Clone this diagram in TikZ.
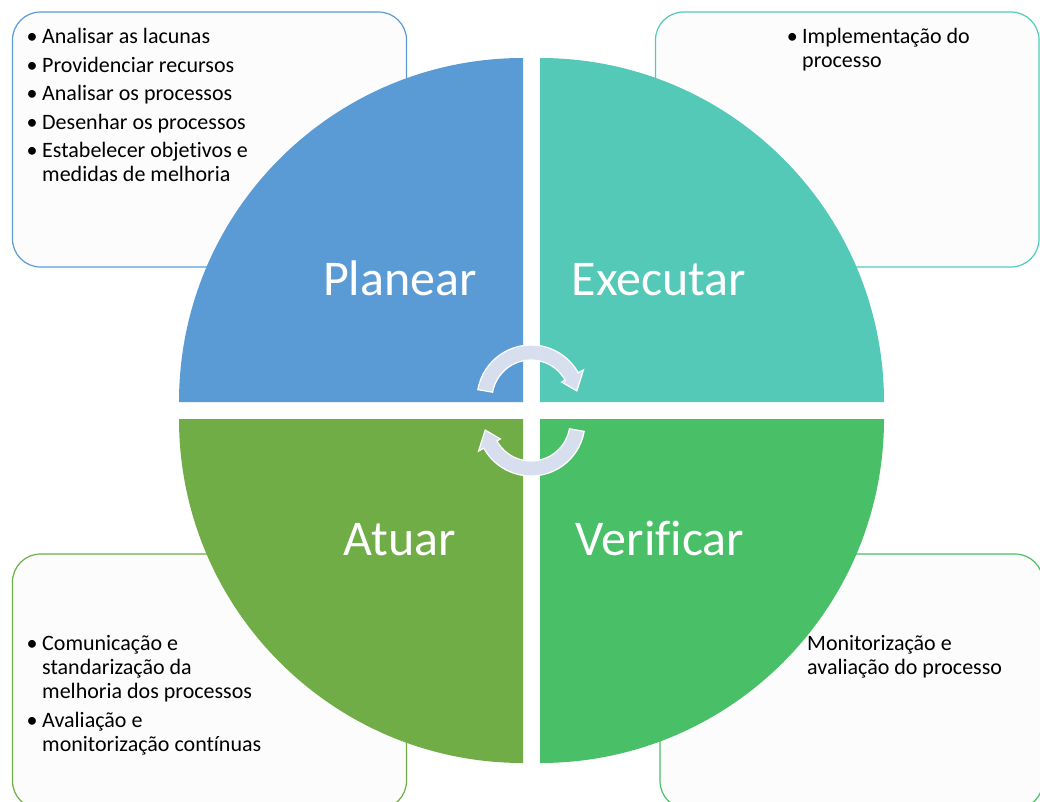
\documentclass[tikz,border=0pt]{standalone}
\usepackage{fontspec}
\setmainfont{Carlito}[RawFeature={-liga;-clig;-calt;-dlig}]
\usetikzlibrary{calc}
\definecolor{qblue}{HTML}{5B9BD5}
\definecolor{qteal}{HTML}{54C9B8}
\definecolor{qgreenA}{HTML}{70AD47}
\definecolor{qgreenV}{HTML}{49BF67}
\definecolor{arrowfill}{RGB}{215,223,238}
\definecolor{boxfill}{HTML}{FCFCFC}
\tikzset{
  infobox/.style={fill=boxfill, line width=1.2pt, rounded corners=28pt},
  bodytext/.style={anchor=base west, inner sep=0pt, text=black, font=\fontsize{22}{24.2}\selectfont},
  bigtext/.style={anchor=base, inner sep=0pt, text=white, font=\fontsize{50}{60}\selectfont},
  cyclearrow/.style={fill=arrowfill, draw=white, line width=1.2pt, line join=miter}
}
\newcommand{\bul}{\llap{\raisebox{0pt}{•}\hspace{4.5pt}}}
\begin{document}
\begin{tikzpicture}[x=1pt,y=1pt]
\useasboundingbox (0,0) rectangle (1040,-802);
% boxes
\draw[infobox, draw=qblue] (12.5,-12) rectangle (406.5,-267);
\draw[infobox, draw=qteal] (655.5,-12) rectangle (1039,-267);
\draw[infobox, draw=qgreenA] (12.5,-554) rectangle (406.5,-809);
\draw[infobox, draw=qgreenV] (660,-554) rectangle (1043,-809);
% quadrants
\fill[qblue] (523,-402) -- (179,-402) arc[start angle=180, end angle=90, radius=344] -- cycle;
\fill[qteal] (540,-402) -- (540,-58) arc[start angle=90, end angle=0, radius=344] -- cycle;
\fill[qgreenV] (540,-419) -- (884,-419) arc[start angle=0, end angle=-90, radius=344] -- cycle;
\fill[qgreenA] (523,-419) -- (523,-763) arc[start angle=-90, end angle=-180, radius=344] -- cycle;
% labels
\node[bigtext] (plan) at (400,-295) {Planear};
\node[bigtext] (exec) at (659,-295) {Executar};
\node[bigtext] (atuar) at (400,-555) {Atuar};
\node[bigtext] (verif) at (660,-555) {Verificar};
% cycle arrows
\coordinate (c1) at (531,-399);
\coordinate (c2) at (531,-422);
\draw[cyclearrow] ($(c1)+(170:54)$) arc[start angle=170, end angle=29, radius=54]
  -- ($(c1)+(29:60)$) -- ($(c1)+(10:46.5)$) -- ($(c1)+(29:35)$) -- ($(c1)+(29:39)$)
  arc[start angle=29, end angle=170, radius=39] -- cycle;
\draw[cyclearrow] ($(c2)+(350:54)$) arc[start angle=350, end angle=209, radius=54]
  -- ($(c2)+(209:60)$) -- ($(c2)+(190:46.5)$) -- ($(c2)+(209:35)$) -- ($(c2)+(209:39)$)
  arc[start angle=209, end angle=350, radius=39] -- cycle;
% top-left text
\node[bodytext] (p1) at (42,-44) {\bul Analisar as lacunas};
\node[bodytext] (p2) at (42,-72.5) {\bul Providenciar recursos};
\node[bodytext] (p3) at (42,-101) {\bul Analisar os processos};
\node[bodytext] (p4) at (42,-129.5) {\bul Desenhar os processos};
\node[bodytext] (p5) at (42,-158) {\bul Estabelecer objetivos e};
\node[bodytext] (p6) at (42,-182) {medidas de melhoria};
% top-right text
\node[bodytext] (e1) at (802,-43.5) {\bul Implementação do};
\node[bodytext] (e2) at (802,-67.5) {processo};
% bottom-left text
\node[bodytext] (a1) at (42,-650) {\bul Comunicação e};
\node[bodytext] (a2) at (42,-674) {standarização da};
\node[bodytext] (a3) at (42,-698.3) {melhoria dos processos};
\node[bodytext] (a4) at (42,-727.7) {\bul Avaliação e};
\node[bodytext] (a5) at (42,-751.7) {monitorização contínuas};
% bottom-right text
\node[bodytext] (v1) at (807,-650) {Monitorização e};
\node[bodytext] (v2) at (807,-674) {avaliação do processo};
\end{tikzpicture}
\end{document}
